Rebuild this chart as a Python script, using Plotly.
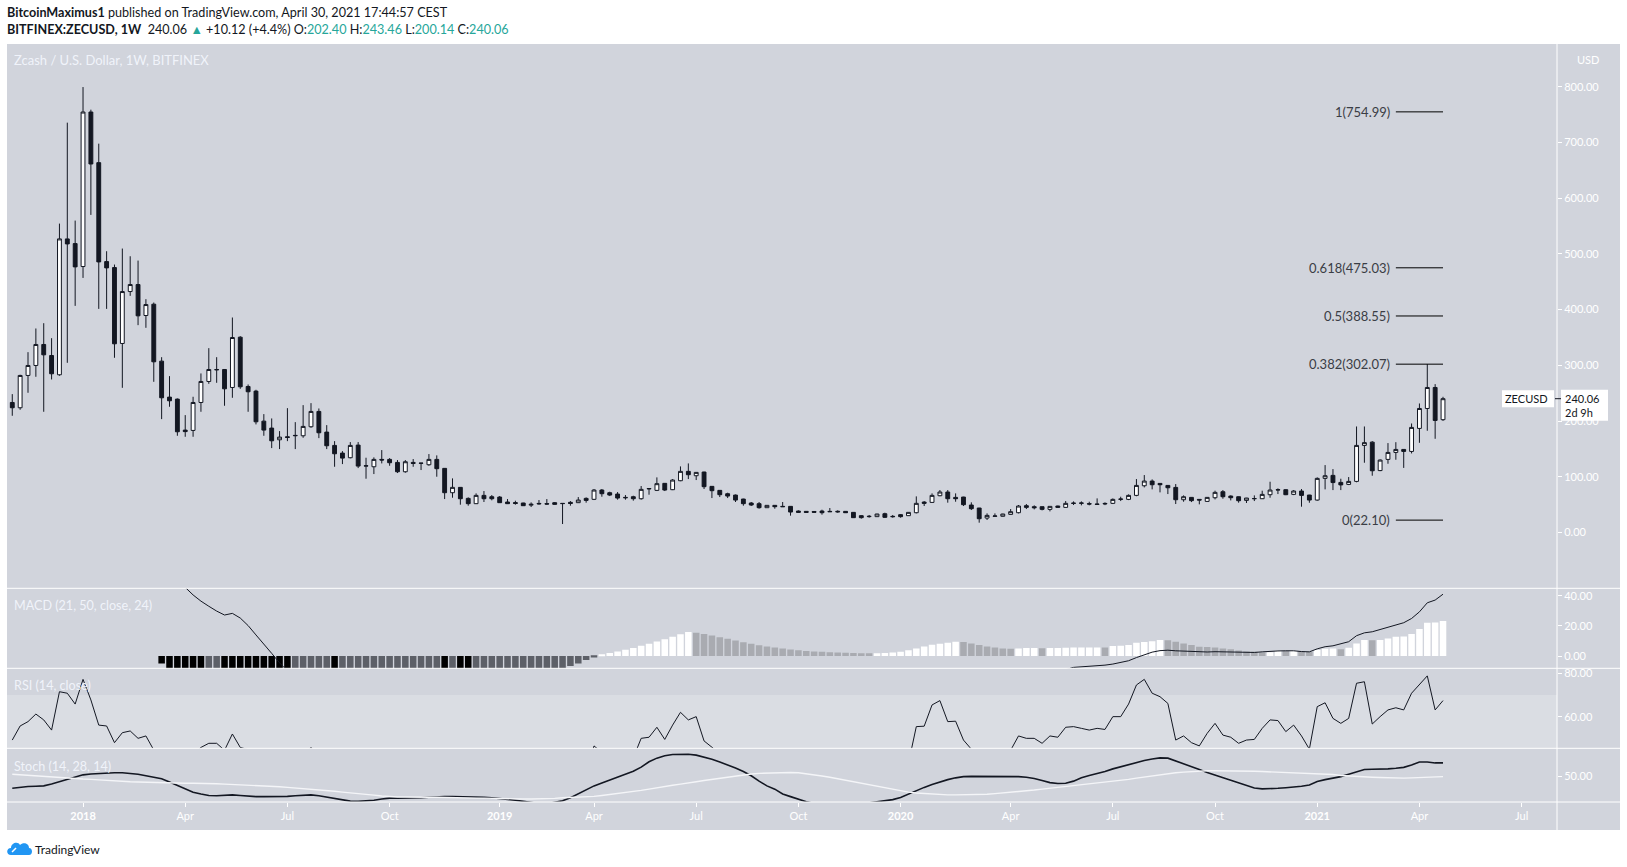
import plotly.graph_objects as go
import pandas as pd

# ---------------- data ----------------
first_bar = "2017-10-30"   # weekly bars (Mondays)

opens = [
    233.3, 223.8, 281.8, 299.7, 337.4, 317.6, 283.0, 526.9, 518.5, 477.3,
    754.7, 663.8, 486.2, 475.5, 339.2, 432.4, 445.0, 389.4, 409.7, 307.5,
    242.9, 239.3, 183.7, 183.1, 233.3, 271.0, 292.5, 292.5, 260.2, 350.5,
    262.0, 253.7, 199.8, 187.3, 166.3, 171.7, 173.5, 173.5, 189.7, 217.2,
    180.1, 156.2, 142.4, 134.1, 156.8, 119.1, 117.9, 131.1, 131.1, 125.7,
    108.9, 125.7, 124.0, 121.5, 131.1, 115.0, 71.3, 80.9, 61.1, 51.6,
    66.5, 64.1, 63.5, 54.6, 53.6, 52.8, 49.0, 51.0, 51.6, 53.4,
    52.2, 54.0, 53.4, 61.1, 59.4, 76.1, 71.3, 68.9, 62.9, 64.1,
    60.5, 78.0, 75.5, 88.1, 76.7, 92.8, 109.6, 101.8, 108.4, 82.7,
    75.5, 69.5, 67.1, 59.9, 52.8, 51.6, 44.4, 48.6, 46.8, 46.8,
    38.4, 37.8, 37.6, 38.4, 37.8, 38.0, 37.8, 36.0, 30.1, 28.3,
    28.3, 33.6, 28.9, 31.9, 30.1, 35.4, 54.5, 53.9, 65.9, 72.5,
    62.9, 63.5, 49.2, 43.8, 25.8, 28.9, 29.0, 32.4, 35.4, 48.0,
    46.2, 46.2, 41.4, 47.4, 45.0, 52.8, 52.2, 51.6, 51.0, 51.0,
    52.2, 59.3, 59.3, 66.5, 83.8, 92.2, 88.0, 84.4, 80.8, 58.7,
    62.9, 59.3, 55.7, 62.3, 73.1, 65.3, 64.1, 57.5, 60.5, 60.5,
    67.7, 76.1, 76.7, 68.3, 74.3, 67.1, 58.1, 97.0, 102.4, 89.8,
    86.2, 91.6, 156.2, 162.1, 111.0, 131.1, 143.6, 149.0, 145.4, 186.7,
    222.5, 260.2, 202.40,
]
highs = [
    248.3, 283.0, 323.6, 366.1, 375.6, 348.7, 554.4, 735.6, 559.8, 799.5,
    758.9, 697.9, 504.8, 480.9, 509.6, 495.8, 488.0, 418.7, 412.7, 314.6,
    280.6, 240.5, 210.6, 243.5, 285.4, 330.8, 314.6, 293.0, 385.8, 352.3,
    265.6, 256.1, 212.4, 204.6, 181.9, 223.1, 198.0, 228.5, 232.1, 222.5,
    192.6, 163.9, 146.0, 162.2, 162.2, 134.1, 134.7, 147.8, 133.4, 129.9,
    129.9, 131.7, 124.6, 140.7, 138.3, 115.5, 97.0, 81.2, 62.9, 70.1,
    74.3, 67.1, 65.3, 59.9, 56.9, 53.2, 53.9, 58.1, 59.9, 54.6,
    52.6, 56.3, 63.5, 62.9, 77.9, 77.9, 73.1, 72.5, 67.1, 65.9,
    83.3, 79.0, 98.8, 88.6, 95.8, 118.5, 123.9, 108.4, 109.0, 83.0,
    76.0, 71.3, 68.0, 60.5, 54.6, 54.6, 49.0, 48.8, 54.6, 47.0,
    39.6, 38.0, 38.2, 40.8, 43.8, 39.6, 38.0, 36.4, 31.0, 31.3,
    33.5, 35.4, 31.3, 33.0, 36.4, 64.7, 56.3, 70.1, 76.1, 76.1,
    70.1, 64.0, 54.0, 44.0, 34.2, 34.2, 33.5, 42.0, 49.2, 51.0,
    48.6, 46.5, 47.0, 48.0, 56.3, 55.7, 55.7, 55.1, 61.1, 54.0,
    61.0, 64.1, 68.3, 95.8, 103.0, 95.2, 88.5, 85.0, 86.8, 66.5,
    63.5, 60.0, 63.5, 74.9, 76.1, 66.5, 64.5, 62.0, 66.5, 74.9,
    91.0, 79.1, 77.3, 76.0, 77.9, 67.5, 98.8, 120.9, 113.7, 96.4,
    99.4, 190.2, 190.2, 163.9, 131.1, 160.4, 162.0, 149.5, 195.6, 231.5,
    302.07, 266.2, 243.46,
]
lows = [
    209.4, 220.2, 250.7, 279.4, 216.6, 274.6, 281.2, 304.5, 406.7, 456.9,
    570.0, 401.3, 401.3, 313.5, 259.6, 424.7, 372.1, 367.3, 270.4, 203.4,
    225.6, 173.5, 171.7, 171.7, 216.6, 266.8, 268.6, 227.4, 241.7, 257.8,
    216.6, 193.9, 173.5, 151.4, 149.6, 163.9, 149.6, 169.9, 187.9, 169.3,
    149.6, 117.9, 122.7, 133.0, 115.5, 96.4, 104.8, 123.9, 119.7, 106.6,
    107.2, 117.9, 112.0, 119.7, 100.0, 59.9, 62.3, 49.8, 48.0, 51.0,
    54.6, 57.6, 53.0, 51.0, 49.8, 47.6, 45.6, 49.8, 49.8, 49.8,
    15.1, 48.0, 53.0, 53.4, 58.1, 64.1, 65.3, 58.8, 58.8, 57.0,
    58.8, 67.7, 74.3, 74.3, 76.0, 92.0, 95.8, 94.0, 77.9, 61.7,
    63.5, 61.7, 54.6, 48.0, 47.4, 42.6, 44.0, 42.6, 46.0, 30.1,
    35.4, 35.8, 35.6, 31.9, 37.0, 35.4, 35.0, 26.0, 24.7, 26.5,
    28.0, 25.9, 26.5, 26.5, 29.5, 34.2, 47.4, 53.0, 65.0, 53.4,
    55.1, 47.4, 40.2, 17.5, 22.3, 28.5, 28.5, 32.0, 34.2, 42.0,
    41.4, 39.6, 37.8, 44.0, 44.5, 49.2, 48.6, 48.6, 50.0, 49.0,
    51.0, 56.3, 58.0, 65.0, 80.8, 77.3, 71.9, 68.9, 51.0, 55.1,
    54.5, 50.4, 55.0, 59.3, 60.5, 57.5, 53.4, 52.8, 56.3, 60.0,
    62.3, 68.9, 67.0, 67.0, 46.2, 53.3, 56.9, 77.3, 76.0, 76.0,
    85.0, 90.0, 125.1, 101.8, 110.0, 123.3, 130.5, 115.8, 141.8, 160.9,
    182.5, 168.1, 200.14,
]
closes = [
    223.8, 281.8, 299.7, 337.4, 318.8, 284.8, 526.9, 517.9, 476.7, 754.7,
    661.4, 485.6, 474.9, 338.6, 432.4, 445.0, 388.8, 409.1, 306.3, 241.7,
    236.3, 180.7, 181.0, 233.3, 271.0, 292.5, 292.0, 257.8, 349.9, 261.4,
    252.5, 198.6, 183.7, 164.5, 171.1, 170.5, 174.1, 190.3, 217.2, 178.9,
    155.6, 141.2, 133.4, 156.2, 119.1, 119.7, 131.1, 130.0, 125.1, 108.9,
    126.9, 123.9, 124.4, 131.1, 114.4, 71.3, 80.9, 60.5, 51.6, 66.5,
    60.5, 60.5, 53.4, 51.6, 52.0, 48.0, 50.5, 52.0, 51.0, 50.4,
    51.8, 52.0, 58.1, 57.5, 76.1, 69.5, 67.1, 61.7, 62.3, 60.5,
    77.3, 78.8, 87.5, 76.1, 94.0, 109.6, 103.6, 107.8, 82.1, 74.9,
    67.7, 65.3, 58.1, 51.6, 49.2, 44.4, 48.6, 46.2, 46.2, 36.6,
    36.0, 36.0, 36.2, 35.4, 37.2, 37.0, 35.4, 26.5, 26.5, 28.9,
    33.0, 27.1, 28.3, 28.3, 36.0, 52.2, 52.2, 66.5, 72.5, 60.5,
    60.5, 49.8, 42.6, 24.6, 30.6, 29.5, 33.0, 37.2, 47.4, 45.0,
    44.4, 41.4, 46.8, 45.0, 52.2, 52.2, 52.8, 51.0, 50.4, 52.0,
    59.3, 59.9, 66.5, 84.4, 92.2, 85.6, 85.6, 80.2, 58.7, 64.1,
    57.0, 58.1, 62.9, 71.9, 64.1, 62.3, 56.9, 61.7, 60.8, 68.3,
    76.1, 76.7, 67.7, 74.3, 66.5, 58.1, 97.0, 101.8, 89.5, 85.3,
    91.6, 156.2, 161.2, 110.7, 129.9, 143.6, 149.0, 145.4, 188.5, 222.5,
    260.2, 201.0, 240.06,
]

macd_line = [
    62, 63, 66, 70, 74, 76, 80, 86, 90, 100,
    106, 108, 104, 100, 93, 86, 80, 74, 66, 58,
    52, 48, 45.5, 40.5, 36.4, 33.0, 29.8, 27.2, 28.3, 25.2,
    20.2, 14.0, 7.5, 1.8, -4.5, -10.5, -15, -18.5, -20, -22.5,
    -26, -30, -33, -34.5, -37.5, -40, -41.5, -42.5, -43.5, -45,
    -45, -45, -45, -44.5, -45, -48.5, -50.5, -53, -55, -55.5,
    -56, -56, -56, -56, -55.5, -55, -54.5, -53.5, -52.5, -51.5,
    -50.5, -49.5, -48, -46.5, -44, -42, -40, -38.5, -37, -35.5,
    -33, -30.5, -27.5, -25.5, -23, -20, -17.5, -15.5, -14.5, -14,
    -14, -14, -14.5, -15, -15.5, -16.5, -17, -17.5, -18, -19,
    -19.5, -20, -20.5, -21, -21, -21.5, -21.5, -22.5, -23, -23.5,
    -23.5, -23.5, -23.5, -23.5, -23, -21, -19.5, -17.5, -15.5, -14.5,
    -13.5, -13.5, -14, -15.5, -16, -16, -16, -15.5, -14.5, -13.5,
    -13, -12.5, -11.5, -10.5, -9.0, -7.5, -7.2, -6.9, -6.6, -6.0,
    -5.3, -4.2, -3.1, -1.0, 1.0, 2.6, 3.6, 3.9, 3.5, 3.2,
    2.9, 2.6, 2.7, 2.9, 2.8, 2.7, 2.6, 2.5, 2.4, 2.8,
    3.3, 3.4, 3.5, 3.5, 3.0, 2.8, 4.8, 6.2, 6.8, 7.9,
    9.5, 13.5, 15.4, 16.1, 17.6, 19.4, 20.8, 22.1, 24.9, 29.3,
    35.3, 37.1, 41.0,
]
macd_hist = [
    None, None, None, None, None, None, None, None, None, None,
    None, None, None, None, None, None, None, None, None, -4.9,
    -10, -13, -16, -19, -22, -21, -20, -21.5, -23, -24.5,
    -26, -27.5, -29, -30.5, -32, -33, -32, -31, -30, -29,
    -28, -29, -28, -27, -26, -25, -24, -23, -22, -21,
    -20, -19, -18, -17, -16, -18, -17.5, -20, -22, -21,
    -20, -19, -18, -17, -16, -15, -14, -13, -12, -11,
    -9, -6.6, -4.9, -2.6, -0.9, 0.7, 2.0, 3.0, 4.2, 5.4,
    6.8, 8.2, 9.6, 11.2, 12.8, 14.5, 15.9, 15.5, 14.6, 13.6,
    12.5, 11.4, 10.3, 9.2, 8.2, 7.2, 6.4, 5.7, 5.1, 4.4,
    3.8, 3.3, 3.0, 2.8, 2.6, 2.4, 2.2, 2.0, 1.9, 1.8,
    1.9, 2.0, 2.4, 2.9, 3.9, 5.1, 6.4, 7.5, 8.2, 8.8,
    9.5, 9.3, 8.4, 7.3, 6.4, 5.7, 5.1, 4.9, 5.1, 5.3,
    5.4, 5.2, 5.3, 5.4, 5.5, 5.6, 5.65, 5.7, 5.75, 5.6,
    6.6, 6.8, 7.3, 8.8, 9.3, 9.9, 10.6, 10.5, 9.5, 8.4,
    7.3, 6.2, 6.0, 5.7, 5.1, 4.5, 3.7, 3.1, 2.9, 2.4,
    2.6, 3.5, 3.4, 3.5, 3.3, 2.9, 4.0, 4.9, 5.0, 4.6,
    5.5, 8.4, 10.6, 10.5, 10.7, 11.7, 12.8, 12.9, 14.6, 17.9,
    22.1, 22.2, 23.2,
]
rsi = [
    49.2, 55.7, 57.7, 61.2, 58.5, 53.8, 71.5, 70.8, 65.8, 77.2,
    67.7, 56.1, 55.7, 48.0, 52.6, 53.4, 50.0, 51.1, 44.6, 40.5,
    40.2, 35.5, 35.6, 42.5, 45.8, 47.7, 47.7, 44.5, 52.0, 45.8,
    44.8, 40.5, 39.0, 37.0, 38.0, 38.0, 38.2, 41.5, 45.8, 40.5,
    37.0, 34.5, 33.5, 37.5, 32.5, 32.5, 35.0, 35.0, 34.0, 31.5,
    36.5, 36.0, 36.0, 38.0, 34.5, 26.0, 29.0, 25.5, 24.0, 29.0,
    27.5, 27.5, 26.0, 25.5, 26.0, 25.0, 26.5, 27.5, 27.5, 27.0,
    28.5, 29.5, 33.0, 33.0, 46.5, 43.5, 42.5, 39.5, 40.0, 41.0,
    50.0, 50.5, 55.1, 49.5, 56.1, 62.0, 58.5, 60.0, 48.8, 45.8,
    43.0, 42.0, 39.0, 36.5, 35.5, 33.5, 36.0, 35.0, 35.0, 30.5,
    30.5, 30.5, 30.7, 30.0, 31.5, 31.5, 30.5, 26.5, 26.5, 28.5,
    33.0, 29.5, 31.0, 31.0, 38.5, 55.4, 55.6, 65.4, 67.4, 57.7,
    57.9, 49.2, 45.0, 36.0, 40.0, 39.6, 42.0, 44.5, 51.1, 50.0,
    50.0, 47.7, 51.1, 50.5, 55.1, 55.4, 54.6, 53.8, 54.6, 54.1,
    60.0, 60.0, 65.8, 74.6, 77.2, 70.8, 69.2, 66.1, 49.2, 51.1,
    48.0, 46.5, 52.3, 56.9, 51.5, 50.5, 47.7, 49.2, 49.5, 54.6,
    58.5, 58.2, 53.1, 56.1, 51.1, 45.0, 64.6, 66.4, 59.2, 56.9,
    59.2, 75.4, 76.1, 56.6, 60.0, 63.1, 64.1, 63.1, 70.8, 74.6,
    78.8, 63.1, 67.4,
]
stoch_k = [
    46.1, 46.5, 46.7, 46.8, 46.9, 47.5, 48.3, 49.2, 50.0, 50.6,
    50.9, 51.1, 51.2, 51.3, 51.3, 51.1, 50.8, 50.3, 49.8, 49.3,
    48.2, 47.0, 45.8, 44.8, 44.2, 43.7, 43.6, 43.7, 43.9, 43.7,
    43.4, 43.3, 43.3, 43.3, 43.3, 43.4, 43.6, 43.8, 43.9, 43.6,
    43.1, 42.6, 42.2, 41.8, 41.7, 41.8, 42.1, 42.5, 42.8, 42.8,
    42.8, 42.8, 42.9, 43.1, 43.3, 43.3, 43.3, 43.3, 43.3, 43.2,
    43.1, 42.9, 42.7, 42.5, 42.1, 41.7, 41.3, 41.0, 40.9, 41.3,
    41.9, 42.9, 44.3, 45.7, 46.9, 47.9, 48.9, 49.9, 50.8, 51.8,
    53.2, 55.0, 56.2, 57.0, 57.4, 57.5, 57.5, 57.2, 56.6, 55.8,
    54.9, 54.0, 52.9, 51.7, 50.3, 48.5, 46.9, 45.8, 44.2, 43.3,
    42.4, 41.6, 41.0, 40.6, 40.3, 40.2, 40.2, 40.4, 40.7, 41.2,
    41.6, 41.9, 42.3, 43.0, 44.2, 45.4, 46.4, 47.4, 48.3, 49.0,
    49.6, 50.0, 50.1, 50.1, 50.1, 50.1, 50.2, 50.2, 50.0, 49.8,
    49.4, 48.7, 48.0, 47.7, 47.8, 48.5, 49.6, 50.4, 51.0, 51.7,
    52.6, 53.3, 54.0, 54.8, 55.4, 55.9, 56.3, 56.2, 55.3, 54.3,
    53.3, 52.4, 51.4, 50.5, 49.7, 48.9, 48.0, 47.0, 46.2, 45.9,
    45.9, 46.1, 46.3, 46.5, 46.8, 47.2, 48.4, 49.0, 49.5, 50.0,
    50.8, 51.6, 52.4, 52.5, 52.5, 52.6, 52.8, 53.1, 53.9, 54.9,
    54.9, 54.6, 54.6,
]
stoch_d = [
    50.8, 50.6, 50.4, 50.2, 50.1, 50.0, 49.8, 49.6, 49.4, 49.2,
    49.1, 48.9, 48.8, 48.6, 48.5, 48.3, 48.2, 48.1, 48.0, 48.0,
    47.9, 47.9, 47.8, 47.8, 47.8, 47.7, 47.6, 47.5, 47.4, 47.3,
    47.2, 47.1, 47.0, 46.8, 46.6, 46.4, 46.2, 46.1, 45.8, 45.6,
    45.4, 45.1, 44.8, 44.6, 44.4, 44.1, 43.8, 43.5, 43.3, 43.2,
    43.2, 43.1, 43.1, 43.1, 43.1, 43.0, 43.0, 42.9, 42.9, 42.8,
    42.8, 42.7, 42.7, 42.6, 42.6, 42.5, 42.5, 42.5, 42.6, 42.7,
    42.9, 43.0, 43.1, 43.2, 43.4, 43.7, 44.0, 44.3, 44.7, 45.0,
    45.4, 45.8, 46.3, 46.7, 47.1, 47.5, 47.8, 48.3, 48.7, 49.1,
    49.5, 49.9, 50.3, 50.6, 50.9, 51.1, 51.2, 51.3, 51.4, 51.4,
    51.3, 51.0, 50.6, 50.2, 49.8, 49.3, 48.8, 48.3, 47.8, 47.3,
    46.8, 46.3, 45.8, 45.2, 44.8, 44.5, 44.3, 44.1, 44.0, 43.9,
    43.9, 43.9, 43.9, 44.0, 44.1, 44.3, 44.5, 44.7, 44.9, 45.2,
    45.5, 45.8, 46.1, 46.4, 46.7, 46.9, 47.2, 47.5, 47.7, 48.0,
    48.3, 48.7, 49.1, 49.5, 49.9, 50.3, 50.7, 51.1, 51.3, 51.5,
    51.7, 51.8, 52.0, 52.0, 52.0, 51.9, 51.9, 51.8, 51.8, 51.7,
    51.6, 51.5, 51.4, 51.3, 51.2, 51.2, 51.1, 50.9, 50.7, 50.4,
    50.2, 50.0, 49.9, 49.8, 49.7, 49.6, 49.5, 49.5, 49.6, 49.7,
    49.8, 49.9, 50.0,
]

fib_ratios = ["1", "0.618", "0.5", "0.382", "0"]
fib_levels = [754.99, 475.03, 388.55, 302.07, 22.10]
fib_start_bar = 176   # fib lines run from this bar to the last bar

price_ticks = [0, 100, 200, 300, 400, 500, 600, 700, 800]
macd_ticks = [0, 20, 40]
rsi_ticks = [60, 80]
stoch_ticks = [50]

time_tick_dates = ["2018-01-01", "2018-04-02", "2018-07-02", "2018-10-01",
                   "2019-01-07", "2019-04-01", "2019-07-01", "2019-09-30",
                   "2019-12-30", "2020-04-06", "2020-07-06", "2020-10-05",
                   "2021-01-04", "2021-04-05", "2021-07-05"]
time_tick_text = ["<b>2018</b>", "Apr", "Jul", "Oct", "<b>2019</b>", "Apr", "Jul", "Oct",
                  "<b>2020</b>", "Apr", "Jul", "Oct", "<b>2021</b>", "Apr", "Jul"]

n = len(closes)
for arr in (opens, highs, lows, macd_line, macd_hist, rsi, stoch_k, stoch_d):
    assert len(arr) == n, len(arr)

dates = pd.date_range(first_bar, periods=n, freq="7D")

# ---------------- styling ----------------
W, H = 1627, 867
ML, MR, MT, MB = 7, 70, 44, 65
PW, PH = W - ML - MR, H - MT - MB
BOTTOM = H - MB


def px(x):
    return (x - ML) / PW


def py(y):
    return (BOTTOM - y) / PH


BG = "#D1D4DC"
DARK = "#131722"
WHITE = "#FFFFFF"
FONT = "Lato, 'Open Sans', sans-serif"
TEAL = "#26A69A"

pane_main = [py(588.3), 1.0]
pane_macd = [py(668.3), py(588.3)]
pane_rsi = [py(748.3), py(668.3)]
pane_stoch = [0.0, py(748.3)]

# histogram colours: rising / falling above / below zero
hist_colors = []
prev = None
for h in macd_hist:
    if h is None:
        hist_colors.append("rgba(0,0,0,0)")
    elif h >= 0:
        hist_colors.append(WHITE if (prev is not None and h > prev) else "#A9ABB1")
    else:
        hist_colors.append("#000000" if (prev is None or h < prev) else "#5D6068")
    prev = h

fig = go.Figure()
fig.add_trace(go.Candlestick(
    x=dates, open=opens, high=highs, low=lows, close=closes,
    increasing=dict(line=dict(color=DARK, width=1), fillcolor=WHITE),
    decreasing=dict(line=dict(color=DARK, width=1), fillcolor=DARK),
    whiskerwidth=0, xaxis="x", yaxis="y", showlegend=False, hoverinfo="skip"))

fig.add_trace(go.Bar(x=dates, y=macd_hist, marker=dict(color=hist_colors, line=dict(width=0)),
                     xaxis="x", yaxis="y2", showlegend=False, hoverinfo="skip"))
fig.add_trace(go.Scatter(x=dates, y=macd_line, mode="lines", line=dict(color=DARK, width=1),
                         xaxis="x", yaxis="y2", showlegend=False, hoverinfo="skip"))

fig.add_trace(go.Scatter(x=dates, y=rsi, mode="lines", line=dict(color=DARK, width=1),
                         xaxis="x", yaxis="y3", showlegend=False, hoverinfo="skip"))

fig.add_trace(go.Scatter(x=dates, y=stoch_k, mode="lines", line=dict(color=DARK, width=1.6),
                         xaxis="x", yaxis="y4", showlegend=False, hoverinfo="skip"))
fig.add_trace(go.Scatter(x=dates, y=stoch_d, mode="lines", line=dict(color="#F4F5F8", width=1.4),
                         xaxis="x", yaxis="y4", showlegend=False, hoverinfo="skip"))

yax_common = dict(side="right", anchor="x", showgrid=False, zeroline=False, showline=False,
                  ticks="outside", ticklen=4, tickwidth=1, tickcolor=WHITE,
                  tickfont=dict(family=FONT, size=11, color=WHITE), tickformat=".2f",
                  fixedrange=True)

rsi_range = [45.4, 82.3]

fig.update_layout(
    width=W, height=H,
    margin=dict(l=ML, r=MR, t=MT, b=MB, pad=0),
    paper_bgcolor=WHITE, plot_bgcolor="rgba(0,0,0,0)",
    showlegend=False, hovermode=False,
    bargap=0.17, boxgap=0.3, boxgroupgap=0.3,
    xaxis=dict(type="date", anchor="y4", domain=[0, 1],
               range=[pd.Timestamp(first_bar) - pd.Timedelta(days=4.7),
                      pd.Timestamp(first_bar) + pd.Timedelta(days=1375.5)],
               showgrid=False, zeroline=False, showline=False,
               ticks="outside", ticklen=4, tickwidth=1, tickcolor=WHITE,
               tickvals=time_tick_dates, ticktext=time_tick_text,
               tickfont=dict(family=FONT, size=11, color=WHITE),
               rangeslider=dict(visible=False), fixedrange=True),
    yaxis=dict(domain=pane_main, range=[-100.3, 876.8], tickvals=price_ticks, **yax_common),
    yaxis2=dict(domain=pane_macd, range=[-8.1, 44.9], tickvals=macd_ticks, **yax_common),
    yaxis3=dict(domain=pane_rsi, range=rsi_range, tickvals=rsi_ticks, **yax_common),
    yaxis4=dict(domain=pane_stoch, range=[41.5, 59.5], tickvals=stoch_ticks, **yax_common),
)

shapes = []
# chart background
shapes.append(dict(type="rect", xref="paper", yref="paper", x0=px(7), x1=px(1620),
                   y0=py(830), y1=py(44), fillcolor=BG, line=dict(width=0), layer="below"))
# RSI 30-70 band
shapes.append(dict(type="rect", xref="paper", yref="y3", x0=0, x1=1, y0=rsi_range[0], y1=70,
                   fillcolor="#DADDE3", line=dict(width=0), layer="below"))
# pane separators
for yy in (588.3, 668.3, 748.3, 802):
    shapes.append(dict(type="line", xref="paper", yref="paper", x0=px(7), x1=px(1620),
                       y0=py(yy), y1=py(yy), line=dict(color=WHITE, width=1), layer="above"))
shapes.append(dict(type="line", xref="paper", yref="paper", x0=1, x1=1, y0=py(830), y1=py(44),
                   line=dict(color=WHITE, width=1), layer="above"))
# fib lines
for lv in fib_levels:
    shapes.append(dict(type="line", xref="x", yref="y", x0=dates[fib_start_bar], x1=dates[-1],
                       y0=lv, y1=lv, line=dict(color="#000000", width=1), layer="above"))
# price labels
last_close = closes[-1]
y_last = 44 + (876.8 - last_close) / (876.8 + 100.3) * (588.3 - 44)
shapes.append(dict(type="rect", xref="paper", yref="paper", x0=px(1502), x1=px(1554),
                   y0=py(y_last + 8.5), y1=py(y_last - 8.5), fillcolor=WHITE,
                   line=dict(width=0), layer="above"))
shapes.append(dict(type="rect", xref="paper", yref="paper", x0=px(1561), x1=px(1608),
                   y0=py(y_last + 22), y1=py(y_last - 9), fillcolor=WHITE,
                   line=dict(width=0), layer="above"))
shapes.append(dict(type="line", xref="paper", yref="paper", x0=px(1555), x1=px(1561),
                   y0=py(y_last), y1=py(y_last), line=dict(color=DARK, width=1), layer="above"))


# TradingView logo
def pth(pts):
    out = []
    for cmd, coords in pts:
        if coords:
            out.append(cmd + " " + " ".join(f"{px(a):.5f},{py(b):.5f}" for a, b in coords))
        else:
            out.append(cmd)
    return " ".join(out)


cloud = pth([("M", [(11, 855)]), ("C", [(6, 855), (6, 848), (11, 848)]),
             ("C", [(11, 843), (18, 841), (20, 845)]),
             ("C", [(23, 842), (29, 843), (29, 848)]),
             ("C", [(33, 848), (33, 855), (29, 855)]), ("Z", [])])
shapes.append(dict(type="path", xref="paper", yref="paper", path=cloud,
                   fillcolor="#2196F3", line=dict(width=0), layer="above"))
zig = pth([("M", [(12, 852)]), ("L", [(16, 848), (20, 851), (26, 846)])])
shapes.append(dict(type="path", xref="paper", yref="paper", path=zig,
                   line=dict(color=WHITE, width=1.5), layer="above"))

fig.update_layout(shapes=shapes)

ann = []


def label(x, y, text, size=12, color=WHITE, xanchor="left", **kw):
    ann.append(dict(xref="paper", yref="paper", x=px(x), y=py(y), text=text, showarrow=False,
                    xanchor=xanchor, yanchor="middle", font=dict(family=FONT, size=size, color=color),
                    borderpad=0, **kw))


label(6, 12, "<b>BitcoinMaximus1</b> published on TradingView.com, April 30, 2021 17:44:57 CEST",
      size=12.6, color=DARK)
tc = lambda s: f"<span style='color:{TEAL}'>{s}</span>"
label(6, 29, "<b>BITFINEX:ZECUSD, 1W</b>  240.06 " + tc("▲") + " +10.12 (+4.4%) O:" + tc("202.40")
      + " H:" + tc("243.46") + " L:" + tc("200.14") + " C:" + tc("240.06"), size=12.6, color=DARK)
label(13, 60, "Zcash / U.S. Dollar, 1W, BITFINEX", size=13, color="#F0F3FA")
label(13, 605, "MACD (21, 50, close, 24)", size=12.6, color="#F0F3FA")
label(13, 685, "RSI (14, close)", size=12.6, color="#F0F3FA")
label(13, 766, "Stoch (14, 28, 14)", size=12.6, color="#F0F3FA")
label(1588, 59, "USD", size=11, color=WHITE, xanchor="center")
label(1526, y_last, "ZECUSD", size=11, color=DARK, xanchor="center")
label(1564, y_last, f"{last_close:.2f}", size=11, color=DARK)
label(1564, y_last + 13.5, "2d 9h", size=11, color=DARK)
label(34, 849, "TradingView", size=12, color=DARK)

for r, lv in zip(fib_ratios, fib_levels):
    ann.append(dict(xref="x", yref="y", x=dates[fib_start_bar], y=lv, text=f"{r}({lv:.2f})",
                    showarrow=False, xanchor="right", yanchor="middle", xshift=-4,
                    font=dict(family=FONT, size=13, color="#3A3D45")))

fig.update_layout(annotations=ann)

fig.write_html("out.html", config={"displayModeBar": False},
               post_script="document.body.style.margin='0';document.body.style.overflow='hidden';")
